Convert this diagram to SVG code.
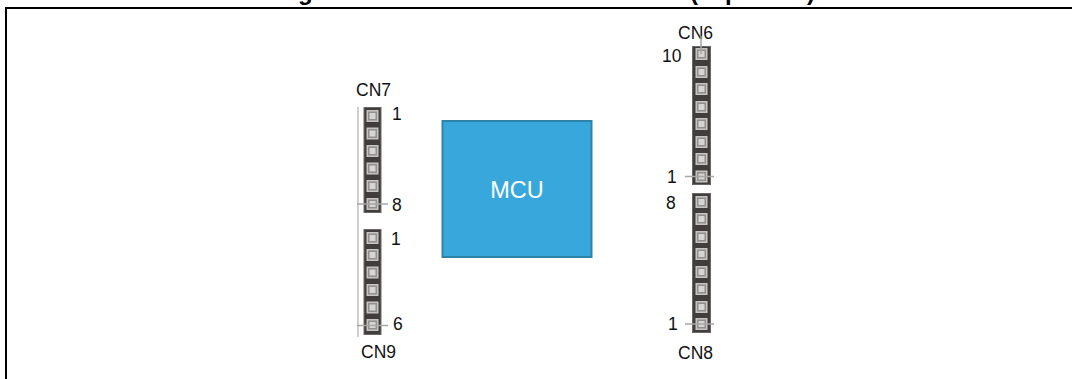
<svg xmlns="http://www.w3.org/2000/svg" width="1072" height="379" viewBox="0 0 1072 379">
<style>
text{font-family:"Liberation Sans",Arial,sans-serif;fill:#111}
.lb{font-size:17.5px}
.tt{font-size:24px;font-weight:bold;fill:#000}
.hd{fill:#423e3d;stroke:#6b6867;stroke-width:1}
.ln{stroke:#a8a7a6;stroke-width:1.5;fill:none}
.lv{stroke:#cfcfcf;stroke-width:2;fill:none}
.soft{filter:url(#blur)}
</style>
<defs>
<filter id="blur" x="-10%" y="-10%" width="120%" height="120%"><feGaussianBlur stdDeviation="0.45"/></filter>
<g id="pin">
<rect x="-6" y="-6" width="12" height="12" fill="#c6c4c2"/>
<rect x="-4.500" y="-4.500" width="9" height="9" fill="#918f8d"/>
<rect x="-3" y="-3" width="6" height="6" fill="#d6d5d3"/>
</g>
</defs>
<rect width="1072" height="379" fill="#fff"/>
<g id="title">
<text class="tt" x="298" y="-0.5">g</text>
<text class="tt" x="690" y="-0.5">(</text>
<text class="tt" x="725" y="-0.5">p</text>
<text class="tt" x="807" y="-0.5">)</text>
</g>
<g id="frame"><path d="M6 379V8H1072" fill="none" stroke="#000" stroke-width="2"/></g>
<g id="mcu">
<rect x="442.500" y="121" width="149" height="136" fill="#38a8dc" stroke="#2f82a8" stroke-width="2"/>
<text x="517" y="198" text-anchor="middle" style="font-size:23.500px;fill:#fff">MCU</text>
</g>
<g id="cn7">
<g class="soft">
<rect class="hd" x="364" y="107.500" width="17" height="105"/>
<use href="#pin" x="372.500" y="116"/><use href="#pin" x="372.500" y="133.500"/><use href="#pin" x="372.500" y="151"/><use href="#pin" x="372.500" y="168.500"/><use href="#pin" x="372.500" y="186"/><use href="#pin" x="372.500" y="204"/>
</g>
<text class="lb" x="356" y="96">CN7</text>
<text class="lb" x="392" y="120">1</text>
<text class="lb" x="392" y="211">8</text>
</g>
<g id="cn9">
<g class="soft">
<rect class="hd" x="364" y="229.500" width="17" height="105"/>
<use href="#pin" x="372.500" y="238"/><use href="#pin" x="372.500" y="255"/><use href="#pin" x="372.500" y="272.500"/><use href="#pin" x="372.500" y="290"/><use href="#pin" x="372.500" y="307.500"/><use href="#pin" x="372.500" y="325"/>
</g>
<text class="lb" x="391" y="245">1</text>
<text class="lb" x="393" y="330">6</text>
<text class="lb" x="361" y="358">CN9</text>
</g>
<g id="cn6">
<g class="soft">
<rect class="hd" x="692.500" y="46.500" width="18" height="138"/>
<use href="#pin" x="701.500" y="54"/><use href="#pin" x="701.500" y="72"/><use href="#pin" x="701.500" y="89"/><use href="#pin" x="701.500" y="107"/><use href="#pin" x="701.500" y="124"/><use href="#pin" x="701.500" y="142"/><use href="#pin" x="701.500" y="159"/><use href="#pin" x="701.500" y="176.500"/>
</g>
<text class="lb" x="678" y="39">CN6</text>
<text class="lb" x="662" y="62">10</text>
<text class="lb" x="667" y="183">1</text>
</g>
<g id="cn8">
<g class="soft">
<rect class="hd" x="692.500" y="193.500" width="18" height="139"/>
<use href="#pin" x="701.500" y="202"/><use href="#pin" x="701.500" y="219"/><use href="#pin" x="701.500" y="237"/><use href="#pin" x="701.500" y="254"/><use href="#pin" x="701.500" y="272"/><use href="#pin" x="701.500" y="289"/><use href="#pin" x="701.500" y="307"/><use href="#pin" x="701.500" y="324"/>
</g>
<text class="lb" x="666" y="209">8</text>
<text class="lb" x="668" y="330">1</text>
<text class="lb" x="678" y="359">CN8</text>
</g>
<g id="connectors">
<path class="lv" d="M358 107V337"/>
<path class="ln" d="M357 204H388M357 325.500H388M685 176.500H714M685 324H714M701 36V54"/>
</g>
</svg>
